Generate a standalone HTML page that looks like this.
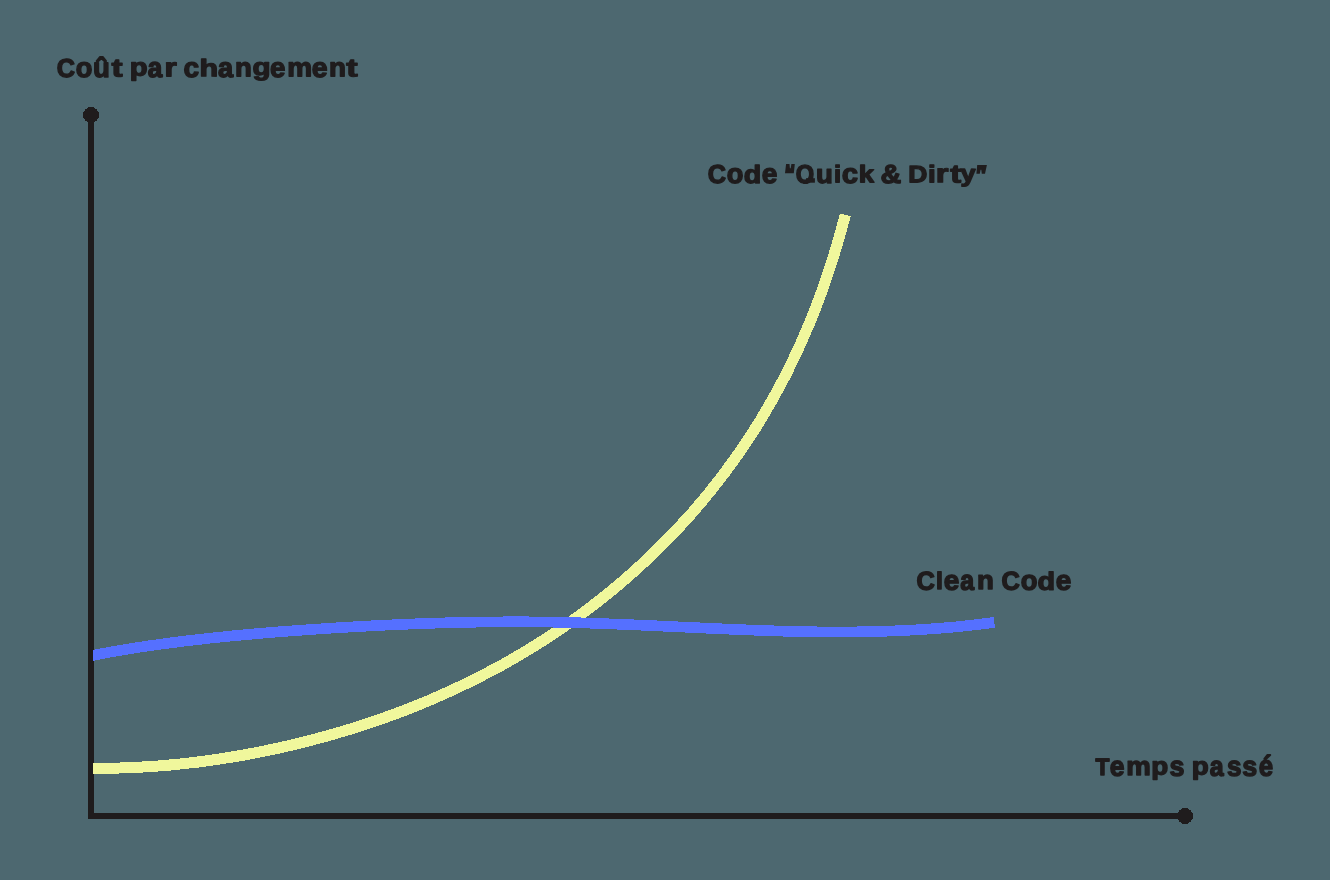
<!DOCTYPE html>
<html><head><meta charset="utf-8"><title>Clean Code vs Quick &amp; Dirty</title>
<style>
html,body{margin:0;padding:0;background:#4d6870;}
body{width:1330px;height:880px;overflow:hidden;font-family:"Liberation Sans",sans-serif;}
svg{display:block}
text{font-family:"Liberation Sans",sans-serif;font-weight:bold;font-size:26px;fill:#201d1e;stroke:#201d1e;stroke-width:1.4px;stroke-linejoin:round;vector-effect:non-scaling-stroke;}
</style></head><body>
<svg width="1330" height="880" viewBox="0 0 1330 880">
<title>Coût par changement / Temps passé</title>
<desc>Axes: Coût par changement (vertical), Temps passé (horizontal). Courbes: Code "Quick &amp; Dirty" (jaune, exponentielle), Clean Code (bleu, quasi plate).</desc>
<rect width="1330" height="880" fill="#4d6870"/>
<g shape-rendering="crispEdges">
<path d="M91 115V816H1185" fill="none" stroke="#1f1c1d" stroke-width="6" stroke-linejoin="miter"/>
<circle cx="91" cy="115" r="8" fill="#1f1c1d"/>
<circle cx="1185" cy="816" r="8" fill="#1f1c1d"/>
<path d="M93.00,768.41C162.00,768.78 231.00,760.03 300.00,743.09C366.67,726.73 433.33,702.74 500.00,666.15C550.00,638.71 600.00,604.19 650.00,556.70C683.33,525.04 716.67,487.61 750.00,436.65C770.00,406.08 790.00,370.64 810.00,322.04C821.78,293.40 833.57,260.20 845.35,214.79" fill="none" stroke="#f0f79c" stroke-width="11.1"/>
<path d="M93.60,655.20C162.40,641.60 231.20,635.15 300.00,630.26C383.33,624.34 466.67,620.71 550.00,622.09C633.33,623.46 716.67,629.84 800.00,631.60C864.77,632.97 929.53,631.56 994.30,622.37" fill="none" stroke="#5570ff" stroke-width="10.7"/>
<rect x="93" y="651.4" width="1.6" height="9.1" fill="#5570ff"/>
</g>
<defs><clipPath id="qc"><rect x="790" y="160" width="30" height="24.0"/></clipPath></defs>
<g style="opacity:.999" fill="#201d1e">
<g aria-label="Coût par changement"><text transform="matrix(0.9706 0.0006 -0.0006 0.9996 56.76 76.95)">C</text><text transform="matrix(1.0469 0.0006 -0.0006 1.0671 75.74 76.93)">o</text><text transform="matrix(1.0593 0.0006 -0.0006 1.0475 93.09 76.93)">û</text><text transform="matrix(1.2837 0.0006 -0.0006 0.9832 111.59 76.58)">t</text> <text transform="matrix(1.1220 0.0006 -0.0006 0.9473 129.68 75.49)">p</text><text transform="matrix(1.0026 0.0006 -0.0006 1.0671 147.84 76.93)">a</text><text transform="matrix(1.2109 0.0006 -0.0006 0.9998 164.52 76.20)">r</text> <text transform="matrix(1.0802 0.0006 -0.0006 1.0671 183.50 76.93)">c</text><text transform="matrix(1.1723 0.0006 -0.0006 0.9236 199.57 76.20)">h</text><text transform="matrix(1.0459 0.0006 -0.0006 1.0671 218.10 76.93)">a</text><text transform="matrix(1.0593 0.0006 -0.0006 0.9998 235.08 76.20)">n</text><text transform="matrix(1.1395 0.0006 -0.0006 0.9430 252.48 75.20)">g</text><text transform="matrix(1.0593 0.0006 -0.0006 1.0671 270.12 76.93)">e</text><text transform="matrix(1.0762 0.0006 -0.0006 0.9998 287.16 76.20)">m</text><text transform="matrix(1.0911 0.0006 -0.0006 1.0671 311.69 76.93)">e</text><text transform="matrix(1.0672 0.0006 -0.0006 0.9998 329.07 76.20)">n</text><text transform="matrix(1.3211 0.0006 -0.0006 0.9832 346.28 76.58)">t</text></g>
<g aria-label="Code &quot;Quick &amp; Dirty&quot;"><text transform="matrix(0.9706 0.0006 -0.0006 0.9996 707.66 182.95)">C</text><text transform="matrix(1.0469 0.0006 -0.0006 1.0671 726.64 182.93)">o</text><text transform="matrix(1.0991 0.0006 -0.0006 0.9637 743.63 182.96)">d</text><text transform="matrix(1.0752 0.0006 -0.0006 1.0671 761.81 182.93)">e</text> <path d="M785.0,173.2L793.8,173.2L794.8,164.1L791.4,164.1L790.7,168.2L789.9,168.2L789.5,164.1L786.1,164.1Z"><title>&quot;</title></path><g clip-path="url(#qc)"><text transform="matrix(0.9078 0.0006 -0.0006 0.9996 795.73 182.95)">Q</text></g><rect x="806" y="178.2" width="8.9" height="4.5"/><text transform="matrix(1.0593 0.0006 -0.0006 1.0150 816.09 182.94)">u</text><text transform="matrix(0.9811 0.0006 -0.0006 0.9236 834.02 182.20)">i</text><text transform="matrix(1.1275 0.0006 -0.0006 1.0671 841.65 182.93)">c</text><text transform="matrix(1.0576 0.0006 -0.0006 0.9236 858.78 182.20)">k</text> <text transform="matrix(1.1057 0.0006 -0.0006 1.0086 880.44 182.94)">&amp;</text> <text transform="matrix(1.0160 0.0006 -0.0006 0.9112 908.33 182.20)">D</text><text transform="matrix(1.0652 0.0006 -0.0006 0.9236 927.97 182.20)">i</text><text transform="matrix(1.2608 0.0006 -0.0006 0.9998 935.84 182.20)">r</text><text transform="matrix(1.2588 0.0006 -0.0006 0.9832 950.30 182.58)">t</text><text transform="matrix(1.0413 0.0006 -0.0006 0.9095 960.39 181.49)">y</text><path d="M977.2,165L986.9,165L985.0,173.7L981.8,173.7L981.3,169.8L980.6,169.8L979.8,173.7L976.4,173.7Z"><title>&quot;</title></path></g>
<g aria-label="Clean Code"><text transform="matrix(0.9765 0.0006 -0.0006 0.9996 916.56 589.85)">C</text><text transform="matrix(0.9531 0.0006 -0.0006 0.9236 935.97 589.10)">l</text><text transform="matrix(1.0752 0.0006 -0.0006 1.0671 943.71 589.83)">e</text><text transform="matrix(0.9594 0.0006 -0.0006 1.0671 960.17 589.83)">a</text><text transform="matrix(1.0593 0.0006 -0.0006 0.9998 977.08 589.10)">n</text> <text transform="matrix(0.9765 0.0006 -0.0006 0.9996 1001.56 589.85)">C</text><text transform="matrix(1.0541 0.0006 -0.0006 1.0671 1020.63 589.83)">o</text><text transform="matrix(1.1067 0.0006 -0.0006 0.9637 1037.52 589.86)">d</text><text transform="matrix(1.0752 0.0006 -0.0006 1.0671 1055.81 589.83)">e</text></g>
<g aria-label="Temps passé"><text transform="matrix(0.8752 0.0006 -0.0006 0.9112 1095.54 775.10)">T</text><text transform="matrix(1.0195 0.0006 -0.0006 1.0671 1109.86 775.83)">e</text><text transform="matrix(1.0610 0.0006 -0.0006 0.9998 1126.28 775.10)">m</text><text transform="matrix(1.0686 0.0006 -0.0006 0.9473 1151.27 774.39)">p</text><text transform="matrix(1.0337 0.0006 -0.0006 1.0662 1169.46 775.83)">s</text> <text transform="matrix(1.0686 0.0006 -0.0006 0.9473 1191.77 774.39)">p</text><text transform="matrix(0.9594 0.0006 -0.0006 1.0671 1209.77 775.83)">a</text><text transform="matrix(1.0016 0.0006 -0.0006 1.0662 1226.88 775.83)">s</text><text transform="matrix(1.0337 0.0006 -0.0006 1.0662 1242.26 775.83)">s</text><text transform="matrix(0.9956 0.0006 -0.0006 1.1075 1258.79 775.82)">é</text></g>
</g>
</svg>
</body></html>
